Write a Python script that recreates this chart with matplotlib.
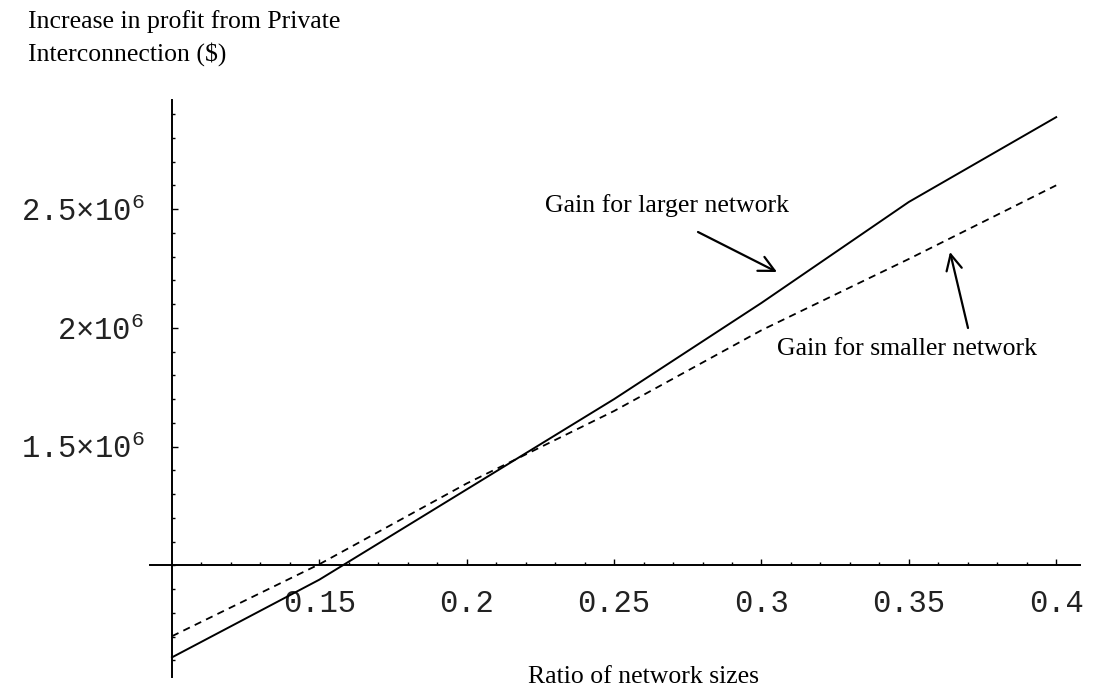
import numpy as np
import matplotlib
matplotlib.use("Agg")
import matplotlib.pyplot as plt
from matplotlib.ticker import FixedLocator

# values (ratio -> $ gain)
ratio = [0.10, 0.15, 0.20, 0.25, 0.30, 0.35, 0.40]
gain_larger = [0.613e6, 0.94e6, 1.32e6, 1.70e6, 2.105e6, 2.53e6, 2.887e6]
gain_smaller = [0.702e6, 1.005e6, 1.345e6, 1.65e6, 1.99e6, 2.29e6, 2.60e6]

xticks = [0.15, 0.2, 0.25, 0.3, 0.35, 0.4]
xtick_labels = ["0.15", "0.2", "0.25", "0.3", "0.35", "0.4"]
yticks = [1.5e6, 2e6, 2.5e6]
ytick_labels = ["1.5×10$^{6}$", "2×10$^{6}$", "2.5×10$^{6}$"]

plt.rcParams['mathtext.fontset'] = 'custom'
plt.rcParams['mathtext.rm'] = 'Liberation Mono'
plt.rcParams['mathtext.default'] = 'rm'

fig = plt.figure(figsize=(10.94, 6.98), dpi=100)
ax = fig.add_axes([0.137, 0.030, 0.850, 0.827])

ax.plot(ratio, gain_larger, color='black', lw=1.4)
ax.plot(ratio, gain_smaller, color='black', lw=1.3, dashes=(4, 3))

ax.set_xlim(0.0925, 0.408)
ax.set_ylim(0.53e6, 2.96e6)

# Mathematica style axes crossing at (0.1, 1e6)
ax.spines['left'].set_position(('data', 0.1))
ax.spines['bottom'].set_position(('data', 1e6))
ax.spines['right'].set_visible(False)
ax.spines['top'].set_visible(False)
for s in ['left', 'bottom']:
    ax.spines[s].set_linewidth(1.4)

ax.xaxis.set_major_locator(FixedLocator(xticks))
ax.set_xticklabels(xtick_labels)
ax.xaxis.set_minor_locator(FixedLocator(np.arange(0.11, 0.405, 0.01)))
ax.yaxis.set_major_locator(FixedLocator(yticks))
ax.set_yticklabels(ytick_labels)
ax.yaxis.set_minor_locator(FixedLocator(np.arange(0.6e6, 2.95e6, 0.1e6)))

ax.tick_params(which='major', direction='in', length=4.5, width=1.0, pad=17,
               labelsize=22, labelcolor='#222222')
ax.tick_params(which='minor', direction='in', length=2.5, width=1.0)
for lab in ax.get_xticklabels() + ax.get_yticklabels():
    lab.set_family('Liberation Mono')
ax.tick_params(axis='y', which='major', pad=20)

serif = 'Liberation Serif'
fig.text(28 / 1094, 1 - 28 / 698, "Increase in profit from Private",
         family=serif, fontsize=18.5, va='baseline', ha='left')
fig.text(28 / 1094, 1 - 61 / 698, "Interconnection ($)",
         family=serif, fontsize=18.5, va='baseline', ha='left')
fig.text(643 / 1094, 1 - 683 / 698, "Ratio of network sizes",
         family=serif, fontsize=18.5, va='baseline', ha='center')

fig.text(545 / 1094, 1 - 212 / 698, "Gain for larger network",
         family=serif, fontsize=18.5, va='baseline', ha='left')
fig.text(777 / 1094, 1 - 355 / 698, "Gain for smaller network",
         family=serif, fontsize=18.5, va='baseline', ha='left')

arrow = dict(arrowstyle='->', lw=1.6, color='black', mutation_scale=28,
             shrinkA=0, shrinkB=0)
ax.annotate("", xy=(777 / 1094, 1 - 272 / 698), xycoords='figure fraction',
            xytext=(698 / 1094, 1 - 232 / 698), textcoords='figure fraction',
            arrowprops=arrow)
ax.annotate("", xy=(950 / 1094, 1 - 252 / 698), xycoords='figure fraction',
            xytext=(968 / 1094, 1 - 328 / 698), textcoords='figure fraction',
            arrowprops=arrow)

fig.savefig("out.png", dpi=100)
